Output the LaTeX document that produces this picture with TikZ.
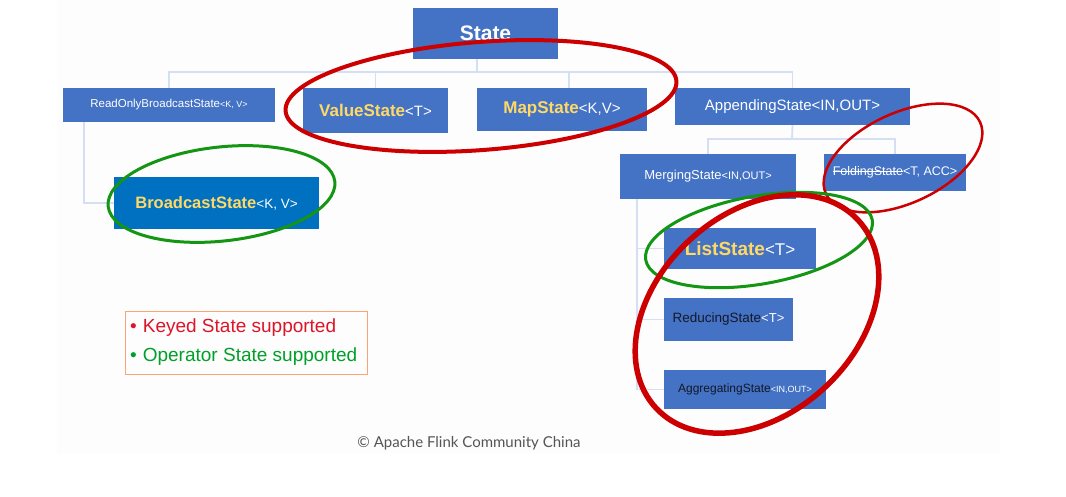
\documentclass[tikz,border=0pt]{standalone}
\usepackage{fontspec}
\setmainfont{Liberation Sans}
\newfontfamily\cpfont{Lato}
\newsavebox{\strkbox}
\newcommand{\strk}[1]{\sbox{\strkbox}{#1}\rlap{\raisebox{0.32em}{\rule{\wd\strkbox}{0.7pt}}}\usebox{\strkbox}}
\definecolor{boxblue}{RGB}{68,114,196}
\definecolor{bcblue}{RGB}{0,112,192}
\definecolor{ylw}{RGB}{255,217,102}
\definecolor{lineblue}{RGB}{212,223,244}
\definecolor{redmark}{RGB}{204,0,0}
\definecolor{greenmark}{RGB}{20,150,20}
\definecolor{legred}{RGB}{222,20,40}
\definecolor{leggreen}{RGB}{0,160,40}
\definecolor{legorange}{RGB}{250,165,115}
\definecolor{darktxt}{RGB}{20,24,40}
\definecolor{slidebg}{RGB}{253,253,253}
\newcommand{\fsz}[1]{\fontsize{#1}{#1}\selectfont}
\begin{document}
\begin{tikzpicture}[x=1pt,y=-1pt,
  box/.style={fill=boxblue, text=white, inner sep=0pt, anchor=center},
  conn/.style={draw=lineblue, line width=1.8pt},
  redring/.style={draw=redmark},
  greenring/.style={draw=greenmark}]
\useasboundingbox (0,0) rectangle (1066,497);
\fill[white] (0,0) rectangle (1066,497);
\fill[slidebg] (57,0) rectangle (1000,453);

% nodes
\node[box, minimum width=145pt, minimum height=51pt] (state) at (485.5,33.5) {\fsz{21}\bfseries State};
\node[box, minimum width=212pt, minimum height=34pt] (ro) at (169,105) {\fsz{11.5}ReadOnlyBroadcastState\fsz{9}<K, V>};
\node[box, minimum width=145pt, minimum height=45pt] (value) at (375.5,110.5) {\fsz{17}\textcolor{ylw}{\bfseries ValueState}\fsz{15}<T>};
\node[box, minimum width=170pt, minimum height=43pt] (map) at (562,109.5) {\fsz{17}\textcolor{ylw}{\bfseries MapState}\fsz{15}<K,V>};
\node[box, minimum width=235pt, minimum height=37pt] (app) at (792.5,106.5) {\fsz{15}AppendingState<IN,OUT>};
\node[box, minimum width=176pt, minimum height=45pt] (merg) at (708,176.5) {\fsz{13}MergingState\fsz{11}<IN,OUT>};
\node[box, minimum width=142pt, minimum height=37pt] (fold) at (895,172.5) {\fsz{12.5}\strk{FoldingState}<T, ACC>};
\node[box, fill=bcblue, minimum width=205pt, minimum height=52pt] (bc) at (216.5,203) {\fsz{16.5}\textcolor{ylw}{\bfseries BroadcastState}\fsz{13.5}<K, V>};
\node[box, minimum width=152pt, minimum height=41pt] (list) at (740,248.5) {\fsz{19}\textcolor{ylw}{\bfseries ListState}\fsz{17}<T>};
\node[box, minimum width=129pt, minimum height=43pt] (red) at (728.5,319.5) {\fsz{13.5}\textcolor{darktxt}{ReducingState}\fsz{13}<T>};
\node[box, minimum width=162pt, minimum height=39pt] (agg) at (745,389.5) {\fsz{12}\textcolor{darktxt}{AggregatingState}\fsz{9}<IN,OUT>};

% connectors
\coordinate (bus) at (477,72);
\coordinate (b2) at (792,139);
\coordinate (mv) at (637,199);
\draw[conn] ([xshift=-8.5pt]state.south) -- (bus);
\draw[conn] (ro.north) |- (bus) -| (app.north);
\draw[conn] (value.north) -- (value.north |- bus);
\draw[conn] ([xshift=7pt]map.north) -- ([xshift=7pt]map.north |- bus);
\draw[conn] (app.south) -- (b2);
\draw[conn] (merg.north) |- (b2) -| (fold.north);
\draw[conn] (mv) |- (agg.west);
\draw[conn] (mv |- list.west) -- (list.west);
\draw[conn] (mv |- red.west) -- (red.west);
\draw[conn] ([xshift=-85pt]ro.south) |- (bc.west);

% legend
\node[draw=legorange, line width=1pt, minimum width=242pt, minimum height=63pt, inner sep=0pt] (legend) at (246,342.5) {};
\node[anchor=west, inner sep=0pt, text=legred] (keyed) at (130,328) {\fsz{19}\textbullet\hspace{6pt}Keyed State supported};
\node[anchor=west, inner sep=0pt, text=leggreen] (oper) at (130,357) {\fsz{19}\textbullet\hspace{6pt}Operator State supported};

% copyright
\node[text={rgb,255:red,85;green,85;blue,85}, inner sep=0pt] (copy) at (469,443) {\cpfont\fsz{15}© Apache Flink Community China};

% hand-drawn rings
\draw[redring, line width=4pt, rotate around={4.4:(481,96)}] (481,96) ellipse [x radius=196pt, y radius=54pt];
\draw[greenring, line width=3pt, rotate around={6.3:(221.5,194)}] (221.5,194) ellipse [x radius=114pt, y radius=47pt];
\draw[redring, line width=2.5pt, rotate around={25:(903,158)}] (903,158) ellipse [x radius=85pt, y radius=45pt];
\draw[greenring, line width=3pt, rotate around={10:(759,240)}] (759,240) ellipse [x radius=115pt, y radius=44pt];
\draw[redring, line width=5.5pt, rotate around={43:(757,314)}] (757,314) ellipse [x radius=138pt, y radius=100pt];
\end{tikzpicture}
\end{document}
